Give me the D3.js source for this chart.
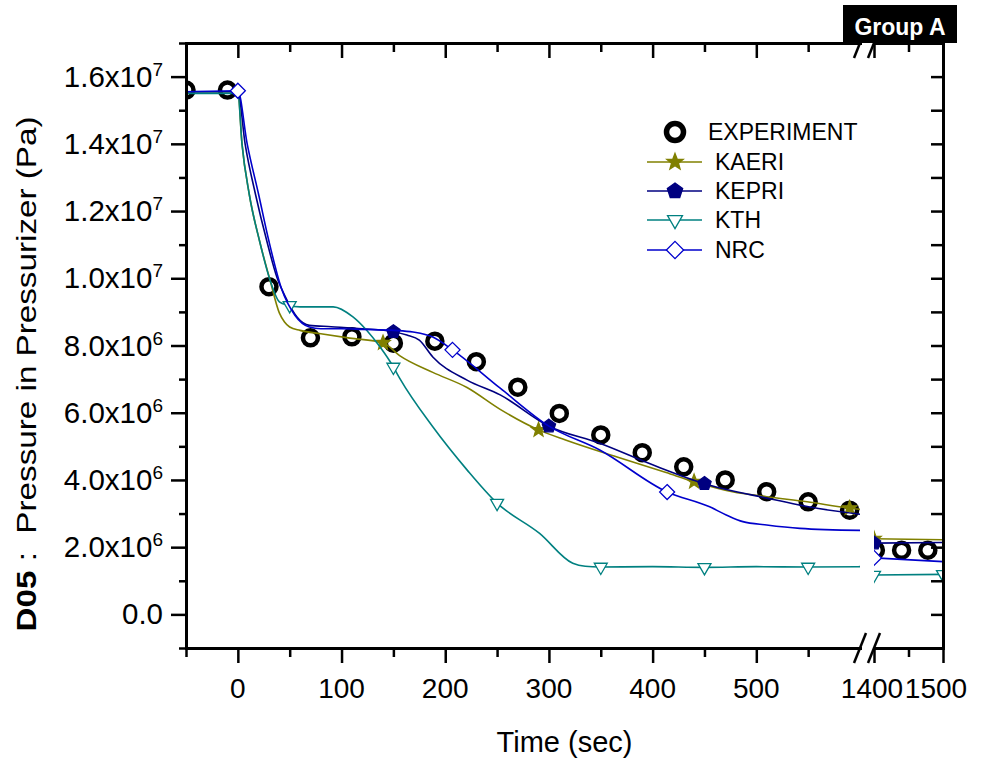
<!DOCTYPE html>
<html><head><meta charset="utf-8">
<script src="https://cdn.jsdelivr.net/npm/d3@7"></script>
<style>
body{margin:0;background:#fff}
svg{display:block}
text{font-family:"Liberation Sans",Arial,Helvetica,sans-serif}
</style>
</head><body>
<svg id="chart" width="982" height="762"></svg>
<script>
// ---------- data (time in s, pressure in Pa) ----------
const expTime = [-50,-10,30,70,110,150,190,230,270,310,350,390,430,470,510,550,590,1402,1440,1478];
const expP    = [15.60e6,15.60e6,9.75e6,8.23e6,8.26e6,8.07e6,8.13e6,7.52e6,6.76e6,5.98e6,5.34e6,4.81e6,4.39e6,4.00e6,3.65e6,3.35e6,3.10e6,1.91e6,1.91e6,1.91e6];

const kaeriTime = [-50,0,4,11,21,31,40,45,50,60,80,108,140,156,188,221,253,290,316,365,413,440,477,510,549,590,600,1400,1500];
const kaeriP    = [15.55e6,15.55e6,14.0e6,12.5e6,11.1e6,9.95e6,8.97e6,8.70e6,8.55e6,8.45e6,8.35e6,8.22e6,8.08e6,7.70e6,7.20e6,6.75e6,6.10e6,5.49e6,5.19e6,4.69e6,4.22e6,3.95e6,3.65e6,3.50e6,3.35e6,3.16e6,3.13e6,2.25e6,2.22e6];

const kepriTime = [-50,0,7,17,28,38,45,57,69,90,120,150,163,175,188,221,253,300,349,400,450,510,560,600,1400,1500];
const kepriP    = [15.55e6,15.55e6,14.0e6,12.5e6,11.1e6,10.0e6,9.5e6,8.85e6,8.60e6,8.56e6,8.50e6,8.41e6,8.31e6,8.16e6,7.66e6,6.97e6,6.53e6,5.60e6,5.09e6,4.45e6,3.89e6,3.46e6,3.15e6,2.98e6,2.12e6,2.14e6];

const kthTime = [-50,0,4,11,21,31,40,48,60,92,111,124,137,150,156,188,221,250,291,323,335,349,400,450,500,550,600,1400,1500];
const kthP    = [15.50e6,15.50e6,14.0e6,12.5e6,11.1e6,9.95e6,9.30e6,9.20e6,9.15e6,9.15e6,8.85e6,8.46e6,7.96e6,7.36e6,7.03e6,5.58e6,4.30e6,3.31e6,2.41e6,1.52e6,1.43e6,1.41e6,1.42e6,1.40e6,1.42e6,1.41e6,1.42e6,1.17e6,1.19e6];

const nrcTime = [-50,0,9,20,30,42,55,69,80,100,120,150,169,188,207,253,300,349,414,455,471,487,510,542,600,1400,1500];
const nrcP    = [15.55e6,15.58e6,14.0e6,12.5e6,11.1e6,9.7e6,8.9e6,8.55e6,8.50e6,8.50e6,8.48e6,8.45e6,8.40e6,8.25e6,7.87e6,6.73e6,5.60e6,4.89e6,3.64e6,3.20e6,2.96e6,2.76e6,2.66e6,2.56e6,2.50e6,1.68e6,1.57e6];

const kaeriMarks = [140,290,440,590,1400];
const kepriMarks = [150,300,450,1400];
const kthMarks   = [50,150,250,350,450,550,1400,1500];
const nrcMarks   = [0,207,414,1400];

const legendLabels = ["EXPERIMENT","KAERI","KEPRI","KTH","NRC"];
const xTickLabels1 = [0,100,200,300,400,500];
const xTickLabels2 = [1400,1500];
const yTickLabels  = [0,2e6,4e6,6e6,8e6,1e7,1.2e7,1.4e7,1.6e7];

// ---------- layout ----------
const svg = d3.select("#chart");
const L = 186, R = 943, T = 43, B = 648;
const seg1End = 860, seg2Start = 874;
const x1 = d3.scaleLinear().domain([-50,600]).range([L,seg1End]);
const x2 = d3.scaleLinear().domain([1400,1500]).range([seg2Start,R]);
const y  = d3.scaleLinear().domain([-1e6,1.7e7]).range([B,T]);

const defs = svg.append("defs");
defs.append("clipPath").attr("id","clip1").append("rect")
  .attr("x",L).attr("y",T).attr("width",seg1End-L).attr("height",B-T);
defs.append("clipPath").attr("id","clip2").append("rect")
  .attr("x",seg2Start).attr("y",T).attr("width",R-seg2Start).attr("height",B-T);

// marker shapes
function poly(n, r, rot, inner){
  const pts=[];
  const m = inner ? 2*n : n;
  for(let i=0;i<m;i++){
    const a = rot + i*2*Math.PI/m;
    const rr = inner ? (i%2===0 ? r : r*inner) : r;
    pts.push([rr*Math.cos(a), rr*Math.sin(a)]);
  }
  return "M"+pts.map(p=>p[0].toFixed(2)+","+p[1].toFixed(2)).join("L")+"Z";
}
const shapes = {
  star:    (s)=>poly(5, 7.5*s, -Math.PI/2, 0.42),
  pent:    (s)=>poly(5, 7*s, -Math.PI/2),
  triDown: (s)=>poly(3, 7.5*s, Math.PI/2),
  diamond: (s)=>poly(4, 7.5*s, -Math.PI/2)
};

const series = [
  {name:"KAERI", t:kaeriTime, p:kaeriP, marks:kaeriMarks, color:"#808000", shape:"star",    fill:"#808000"},
  {name:"KEPRI", t:kepriTime, p:kepriP, marks:kepriMarks, color:"#000080", shape:"pent",    fill:"#000080"},
  {name:"KTH",   t:kthTime,   p:kthP,   marks:kthMarks,   color:"#008080", shape:"triDown", fill:"#ffffff"},
  {name:"NRC",   t:nrcTime,   p:nrcP,   marks:nrcMarks,   color:"#0000CC", shape:"diamond", fill:"#ffffff"}
];

const segs = [
  {x:x1, clip:"url(#clip1)", test:(t)=>t<=600},
  {x:x2, clip:"url(#clip2)", test:(t)=>t>=1400}
];

// experiment circles (drawn first)
segs.forEach(sg=>{
  const g = svg.append("g").attr("clip-path",sg.clip);
  const idx = expTime.map((t,i)=>i).filter(i=>sg.test(expTime[i]));
  g.selectAll("circle").data(idx).join("circle")
    .attr("cx",i=>sg.x(expTime[i])).attr("cy",i=>y(expP[i]))
    .attr("r",7.5).attr("fill","none").attr("stroke","#000").attr("stroke-width",4.5);
});

// model lines + markers
series.forEach(s=>{
  const interp = d3.scaleLinear().domain(s.t).range(s.p);
  segs.forEach(sg=>{
    const g = svg.append("g").attr("clip-path",sg.clip);
    const idx = s.t.map((t,i)=>i).filter(i=>sg.test(s.t[i]));
    const line = d3.line().x(i=>sg.x(s.t[i])).y(i=>y(s.p[i])).curve(d3.curveMonotoneX);
    g.append("path").attr("d",line(idx)).attr("fill","none")
      .attr("stroke",s.color).attr("stroke-width",1.6);
    const mk = s.marks.filter(sg.test);
    g.selectAll("path.mk").data(mk).join("path").attr("class","mk")
      .attr("transform",t=>`translate(${sg.x(t)},${y(interp(t))})`)
      .attr("d",shapes[s.shape](1))
      .attr("fill",s.fill).attr("stroke",s.color).attr("stroke-width",1.3);
  });
});

// ---------- axes ----------
function styleAxis(g, tw){
  g.select(".domain").attr("stroke","#000").attr("stroke-width",3).attr("stroke-linecap","square");
  g.selectAll(".tick line").attr("stroke","#000").attr("stroke-width",tw||2.5);
  g.selectAll(".tick text").remove();
}
const yMajor = d3.range(0,1.7e7,2e6);
const yMinor = d3.range(-1e6,1.71e7,2e6);
const yAll = d3.range(-1e6,1.71e7,1e6);
const xMajor1 = d3.range(0,600,100);
const xMinor1 = d3.range(-50,600,100);

// left
styleAxis(svg.append("g").attr("transform",`translate(${L},0)`)
  .call(d3.axisLeft(y).tickValues(yMajor).tickSize(15).tickSizeOuter(0)));
styleAxis(svg.append("g").attr("transform",`translate(${L},0)`)
  .call(d3.axisLeft(y).tickValues(yMinor).tickSize(7).tickSizeOuter(0)));
// right (inward)
styleAxis(svg.append("g").attr("transform",`translate(${R},0)`)
  .call(d3.axisLeft(y).tickValues(yAll.filter(v=>v>-1e6&&v<1.7e7)).tickSize(12).tickSizeOuter(0)));
// bottom seg1
styleAxis(svg.append("g").attr("transform",`translate(0,${B})`)
  .call(d3.axisBottom(x1).tickValues(xMajor1).tickSize(15).tickSizeOuter(0)));
styleAxis(svg.append("g").attr("transform",`translate(0,${B})`)
  .call(d3.axisBottom(x1).tickValues(xMinor1).tickSize(9).tickSizeOuter(0)));
// bottom seg2
styleAxis(svg.append("g").attr("transform",`translate(0,${B})`)
  .call(d3.axisBottom(x2).tickValues([1400,1500]).tickSize(15).tickSizeOuter(0)));
styleAxis(svg.append("g").attr("transform",`translate(0,${B})`)
  .call(d3.axisBottom(x2).tickValues([1450]).tickSize(9).tickSizeOuter(0)));
// top seg1 (inward)
styleAxis(svg.append("g").attr("transform",`translate(0,${T})`)
  .call(d3.axisBottom(x1).tickValues(xMajor1).tickSize(15).tickSizeOuter(0)));
styleAxis(svg.append("g").attr("transform",`translate(0,${T})`)
  .call(d3.axisBottom(x1).tickValues(xMinor1).tickSize(9).tickSizeOuter(0)));
// top seg2
styleAxis(svg.append("g").attr("transform",`translate(0,${T})`)
  .call(d3.axisBottom(x2).tickValues([1400,1500]).tickSize(15).tickSizeOuter(0)));
styleAxis(svg.append("g").attr("transform",`translate(0,${T})`)
  .call(d3.axisBottom(x2).tickValues([1450]).tickSize(9).tickSizeOuter(0)));

// break marks
[B,T].forEach(yy=>{
  [seg1End, seg2Start].forEach(xx=>{
    svg.append("line").attr("x1",xx-6).attr("y1",yy+15).attr("x2",xx+6).attr("y2",yy-15)
      .attr("stroke","#000").attr("stroke-width",2.5);
  });
});

// x tick labels
const xl = svg.append("g").attr("font-size",28).attr("text-anchor","middle").attr("fill","#000");
xl.selectAll("text.a").data(xTickLabels1).join("text").attr("class","a")
  .attr("x",d=>x1(d)).attr("y",698).text(d=>d);
xl.selectAll("text.b").data(xTickLabels2).join("text").attr("class","b")
  .attr("x",(d,i)=>x2(d)+(i===0?-2:-7)).attr("y",698).text(d=>d);

// y tick labels with superscript
const yl = svg.append("g").attr("font-size",29.5).attr("text-anchor","end").attr("fill","#000");
yTickLabels.forEach(v=>{
  const t = yl.append("text").attr("x",163).attr("y",y(v)+10);
  if(v===0){ t.text("0.0"); return; }
  const e = Math.floor(Math.log10(v)+1e-9);
  const m = v/Math.pow(10,e);
  t.append("tspan").text(m.toFixed(1)+"x10");
  t.append("tspan").attr("font-size",19).attr("dy",-11).text(e);
});

// axis titles
svg.append("text").attr("x",(L+R)/2).attr("y",752).attr("text-anchor","middle")
  .attr("font-size",29).text("Time (sec)");
const yt = svg.append("text").attr("transform","translate(36,374) rotate(-90)")
  .attr("text-anchor","middle").attr("font-size",28)
  .attr("textLength",515).attr("lengthAdjust","spacingAndGlyphs");
yt.append("tspan").attr("font-weight","bold").text("D05");
yt.append("tspan").text("\u00A0:\u00A0\u00A0Pressure in Pressurizer (Pa)");

// legend
const lg = svg.append("g");
const rows = [132,162,191,220,250];
lg.append("circle").attr("cx",675).attr("cy",rows[0]).attr("r",8.5)
  .attr("fill","none").attr("stroke","#000").attr("stroke-width",5.5);
lg.append("text").attr("x",708).attr("y",rows[0]+8).attr("font-size",23).text(legendLabels[0]);
series.forEach((s,i)=>{
  const yy = rows[i+1];
  lg.append("line").attr("x1",647).attr("x2",702).attr("y1",yy).attr("y2",yy)
    .attr("stroke",s.color).attr("stroke-width",1.6);
  lg.append("path").attr("transform",`translate(675,${yy})`).attr("d",shapes[s.shape](1.15))
    .attr("fill",s.fill).attr("stroke",s.color).attr("stroke-width",1.3);
  lg.append("text").attr("x",715).attr("y",yy+8).attr("font-size",23).text(legendLabels[i+1]);
});

// Group A badge
svg.append("rect").attr("x",843).attr("y",5).attr("width",114).attr("height",38).attr("fill","#000");
svg.append("text").attr("x",900).attr("y",35).attr("text-anchor","middle")
  .attr("font-size",23).attr("font-weight","bold").attr("fill","#fff").text("Group A");
</script>
</body></html>
